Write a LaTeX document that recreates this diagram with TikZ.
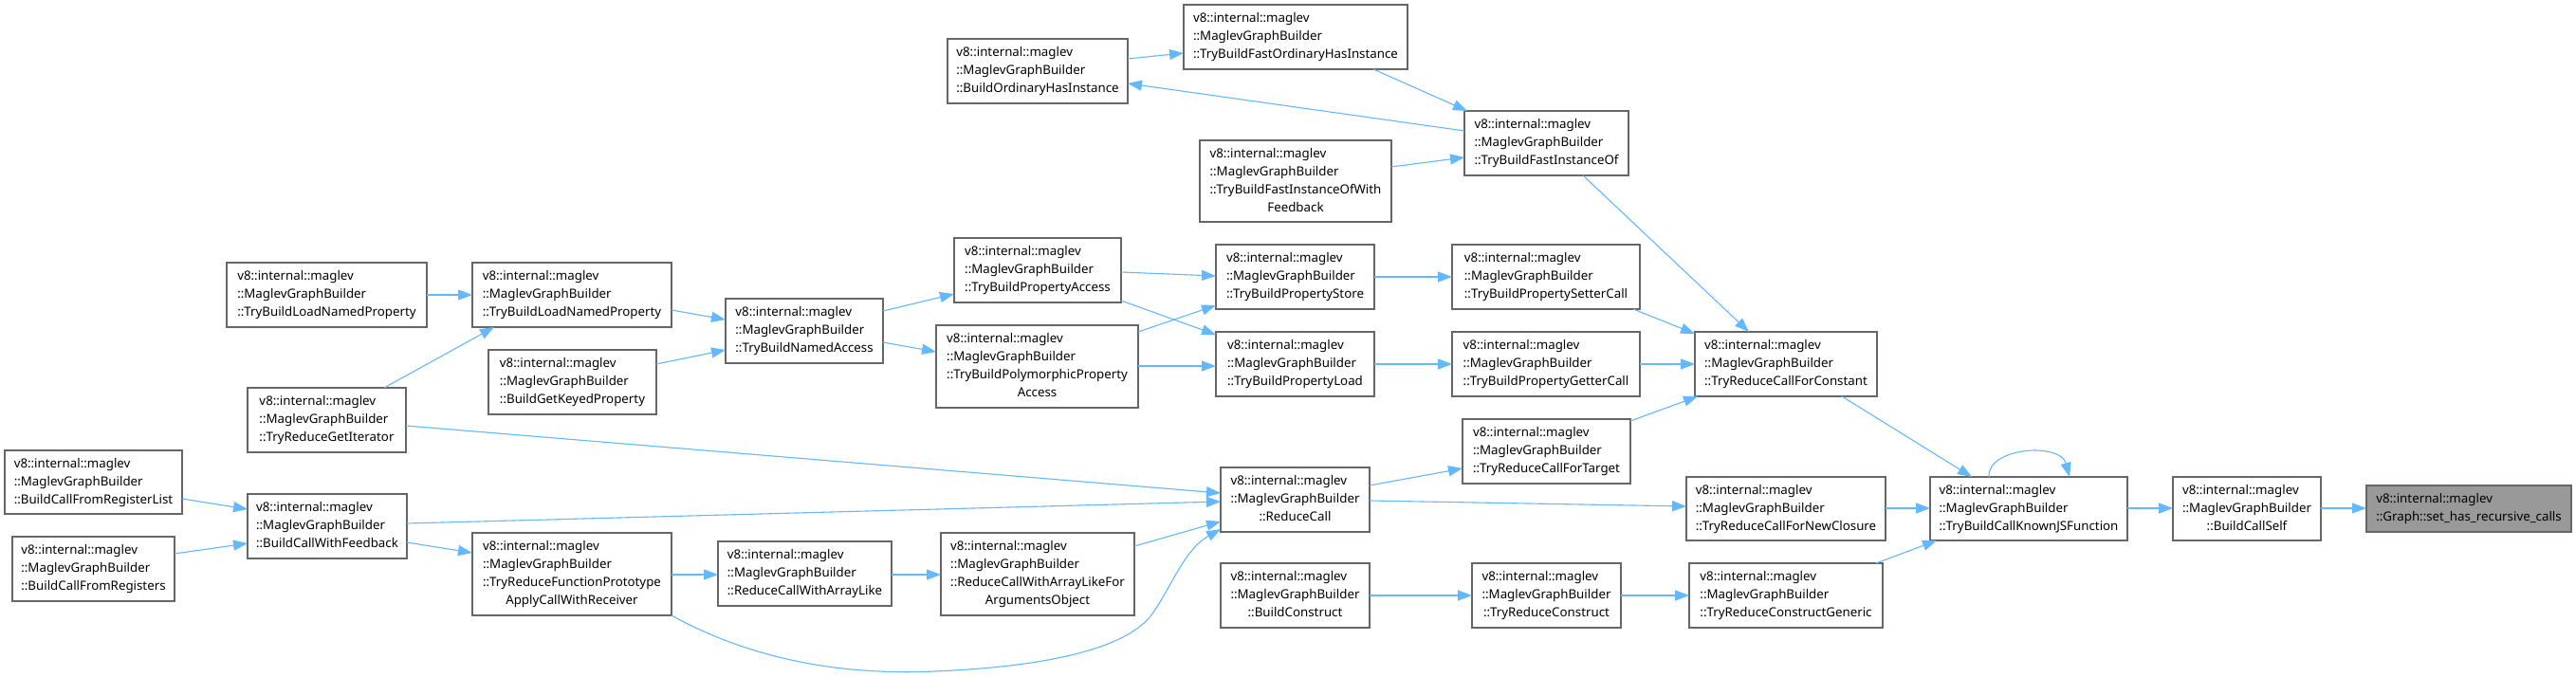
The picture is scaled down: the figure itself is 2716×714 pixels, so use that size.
\documentclass[tikz,border=0pt]{standalone}
\usepackage{fontspec}
\setmainfont{Noto Sans}
\usetikzlibrary{arrows.meta}
\definecolor{edgeblue}{HTML}{63B8FF}
\definecolor{boxgray}{HTML}{666666}
\definecolor{hlfill}{HTML}{999999}
\newcommand{\mgb}[1]{\begin{tabular}{@{}l@{}}v8::internal::maglev\\::MaglevGraphBuilder\\\multicolumn{1}{@{}c@{}}{#1}\end{tabular}}
\newcommand{\mgbb}[2]{\begin{tabular}{@{}l@{}}v8::internal::maglev\\::MaglevGraphBuilder\\#1\\\multicolumn{1}{@{}c@{}}{#2}\end{tabular}}
\newcommand{\nd}[7][]{\node[box,#1,minimum width={(#5)-(#3)},minimum height={(#6)-(#4)}] (#2) at ({((#3)+(#5))/2},{((#4)+(#6))/2}) {#7};}
\tikzset{
  box/.style={draw=boxgray, line width=1.2pt, fill=white, inner sep=0pt, outer sep=0pt,
    font=\fontsize{13.3}{19}\selectfont, text=black},
  hl/.style={fill=hlfill},
  edge/.style={draw=edgeblue, line width=1.1pt, -{Triangle[length=15pt,width=11pt]}},
}
\begin{document}
\begin{tikzpicture}[x=1pt,y=-1pt]
\fill[white] (0,0) rectangle (2716,714);
\useasboundingbox (0,0) rectangle (2716,714);
\renewcommand{\arraystretch}{1}
% nodes
\nd{boh}{999}{41}{1189}{109}{\mgb{::BuildOrdinaryHasInstance}}
\nd{tbfohi}{1248}{5}{1484}{73}{\mgb{::TryBuildFastOrdinaryHasInstance}}
\nd{tbfio}{1544}{117}{1717}{185}{\mgb{::TryBuildFastInstanceOf}}
\nd{tbfiowf}{1265}{148}{1467}{234}{\mgbb{::TryBuildFastInstanceOfWith}{Feedback}}
\nd{tblnpa}{239}{277}{450}{345}{\mgb{::TryBuildLoadNamedProperty}}
\nd{tblnpb}{498}{277}{708}{345}{\mgb{::TryBuildLoadNamedProperty}}
\nd{tbna}{765}{315}{931}{383}{\mgb{::TryBuildNamedAccess}}
\nd{bgkp}{515}{369}{692}{437}{\mgb{::BuildGetKeyedProperty}}
\nd{tbpa}{1006}{251}{1182}{319}{\mgb{::TryBuildPropertyAccess}}
\nd{tbppa}{987}{343}{1200}{430}{\mgbb{::TryBuildPolymorphicProperty}{Access}}
\nd{tbps}{1282}{258}{1449}{326}{\mgb{::TryBuildPropertyStore}}
\nd{tbpl}{1282}{350}{1449}{418}{\mgb{::TryBuildPropertyLoad}}
\nd{tbpsc}{1531}{258}{1729}{326}{\mgb{::TryBuildPropertySetterCall}}
\nd{tbpgc}{1531}{350}{1729}{418}{\mgb{::TryBuildPropertyGetterCall}}
\nd{trcfc}{1787}{350}{1979}{418}{\mgb{::TryReduceCallForConstant}}
\nd{trcft}{1542}{442}{1719}{510}{\mgb{::TryReduceCallForTarget}}
\nd{trgi}{261}{409}{428}{477}{\mgb{::TryReduceGetIterator}}
\nd{bcfrl}{5}{475}{192}{542}{\mgb{::BuildCallFromRegisterList}}
\nd{bcfr}{13}{566}{184}{634}{\mgb{::BuildCallFromRegisters}}
\nd{bcwf}{261}{521}{429}{589}{\mgb{::BuildCallWithFeedback}}
\nd{trfp}{498}{562}{708}{649}{\mgbb{::TryReduceFunctionPrototype}{ApplyCallWithReceiver}}
\nd{rcwal}{757}{571}{940}{639}{\mgb{::ReduceCallWithArrayLike}}
\nd{rcwao}{992}{562}{1196}{649}{\mgbb{::ReduceCallWithArrayLikeFor}{ArgumentsObject}}
\nd{rc}{1287}{493}{1444}{561}{\mgb{::ReduceCall}}
\nd{bcon}{1287}{594}{1444}{662}{\mgb{::BuildConstruct}}
\nd{trc}{1552}{594}{1709}{662}{\mgb{::TryReduceConstruct}}
\nd{trcg}{1781}{594}{1985}{662}{\mgb{::TryReduceConstructGeneric}}
\nd{trcfnc}{1778}{503}{1988}{570}{\mgb{::TryReduceCallForNewClosure}}
\nd{tbck}{2035}{503}{2243}{570}{\mgb{::TryBuildCallKnownJSFunction}}
\nd{bcs}{2291}{503}{2447}{570}{\mgb{::BuildCallSelf}}
\nd[hl]{shrc}{2495}{512}{2711}{561}{\begin{tabular}{@{}l@{}}v8::internal::maglev\\::Graph::set\_has\_recursive\_calls\end{tabular}}
% edges
\draw[edge] (boh.east |- 0,62) -- (tbfohi.west |- 0,56);
\draw[edge] (tbfohi.south -| 1448,0) -- (tbfio.north -| 1547,0);
\draw[edge] (tbfio.west |- 0,138) -- (boh.east |- 0,88);
\draw[edge] (tbfiowf.east |- 0,176) -- (tbfio.west |- 0,166);
\draw[edge] (tbfio.south -| 1669,0) -- (trcfc.north -| 1844,0);
\draw[edge] (tblnpa.east |- 0,311) -- (tblnpb.west |- 0,311);
\draw[edge] (tblnpb.east |- 0,327) -- (tbna.west |- 0,337);
\draw[edge] (trgi.north -| 405,0) -- (tblnpb.south -| 521,0);
\draw[edge] (bgkp.east |- 0,384) -- (tbna.west |- 0,369);
\draw[edge] (tbna.east |- 0,328) -- (tbpa.west |- 0,310);
\draw[edge] (tbna.east |- 0,361) -- (tbppa.west |- 0,371);
\draw[edge] (tbpa.east |- 0,287) -- (tbps.west |- 0,291);
\draw[edge] (tbpa.east |- 0,317) -- (tbpl.west |- 0,353);
\draw[edge] (tbppa.east |- 0,350) -- (tbps.west |- 0,322);
\draw[edge] (tbppa.east |- 0,386) -- (tbpl.west |- 0,386);
\draw[edge] (tbps.east |- 0,292) -- (tbpsc.west |- 0,292);
\draw[edge] (tbpl.east |- 0,384) -- (tbpgc.west |- 0,384);
\draw[edge] (tbpsc.south -| 1722,0) -- (trcfc.west |- 0,352);
\draw[edge] (tbpgc.east |- 0,384) -- (trcfc.west |- 0,384);
\draw[edge] (trcft.east |- 0,444) -- (trcfc.south -| 1790,0);
\draw[edge] (trcfc.south -| 1942,0) -- (tbck.north -| 2079,0);
\draw[edge] (trgi.east |- 0,449) -- (rc.west |- 0,520);
\draw[edge] (bcwf.east |- 0,552) -- (rc.west |- 0,529);
\draw[edge] (rcwao.east |- 0,576) -- (rc.west |- 0,550);
\draw[edge] (trfp.south east) .. controls (800,700) and (900,712) .. (986,708)
  .. controls (1080,704) and (1180,690) .. (1213,650)
  .. controls (1235,620) and (1248,580) .. (rc.west |- 0,558);
\draw[edge] (rc.east |- 0,512) -- (trcft.west |- 0,494);
\draw[edge] (rc.east |- 0,528) -- (trcfnc.west |- 0,534);
\draw[edge] (bcfrl.east |- 0,526) -- (bcwf.west |- 0,537);
\draw[edge] (bcfr.east |- 0,584) -- (bcwf.west |- 0,573);
\draw[edge] (bcwf.east |- 0,572) -- (trfp.west |- 0,583);
\draw[edge] (trfp.east |- 0,606) -- (rcwal.west |- 0,606);
\draw[edge] (rcwal.east |- 0,606) -- (rcwao.west |- 0,606);
\draw[edge] (bcon.east |- 0,628) -- (trc.west |- 0,628);
\draw[edge] (trc.east |- 0,628) -- (trcg.west |- 0,628);
\draw[edge] (trcfnc.east |- 0,536) -- (tbck.west |- 0,536);
\draw[edge] (trcg.north -| 1978,0) -- (tbck.south -| 2042,0);
\draw[edge] (tbck.north -| 2097,0) .. controls (2095,472) and (2172,466) .. (tbck.north -| 2182,0);
\draw[edge] (tbck.east |- 0,536) -- (bcs.west |- 0,536);
\draw[edge] (bcs.east |- 0,536) -- (shrc.west |- 0,536);
\end{tikzpicture}
\end{document}
